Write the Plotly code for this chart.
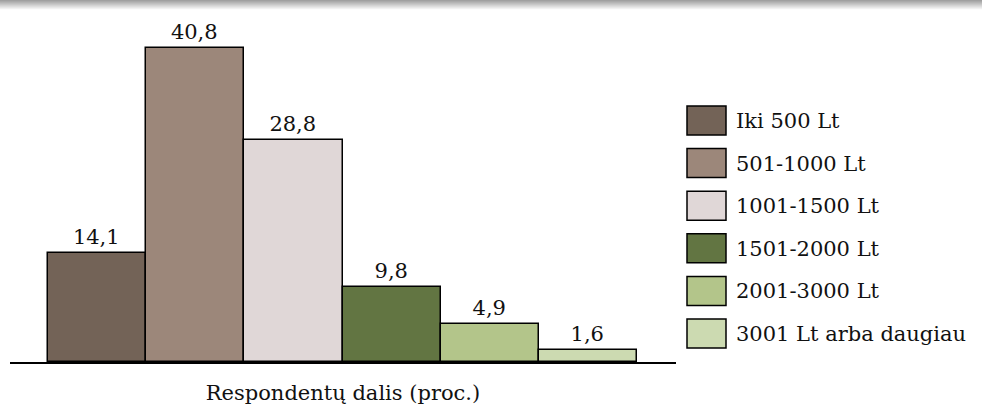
import plotly.graph_objects as go

categorias = ["Iki 500 Lt", "501-1000 Lt", "1001-1500 Lt", "1501-2000 Lt",
              "2001-3000 Lt", "3001 Lt arba daugiau"]
valores = [14.1, 40.8, 28.8, 9.8, 4.9, 1.6]
colores = ["#736357", "#9c877a", "#e0d7d7", "#627542", "#b3c58a", "#ccdab1"]
etiquetas = [f"{v:.1f}".replace(".", ",") for v in valores]

FUENTE = "DejaVu Serif"
TAM = 21
W, H = 982, 414
ML, MR, MT, MB = 10, 306, 10, 52
plot_w = W - ML - MR
plot_h = H - MT - MB


def px_x(p):
    return (p - ML) / plot_w


def px_y(p):
    return (H - MB - p) / plot_h


fig = go.Figure(go.Bar(
    x=categorias, y=valores, text=etiquetas, textposition="outside",
    marker=dict(color=colores, line=dict(color="black", width=1.5)),
    textfont=dict(family=FUENTE, size=TAM, color="#111"),
    cliponaxis=False, showlegend=False,
))

shapes = []
annotations = []
# franja gris degradada arriba
for i in range(10):
    g = int(0xa0 + (0xfc - 0xa0) * i / 9)
    shapes.append(dict(type="rect", xref="paper", yref="paper",
                       x0=px_x(0), x1=px_x(W), y0=px_y(i + 1), y1=px_y(i),
                       fillcolor=f"rgb({g},{g},{g})", line=dict(width=0), layer="above"))

# leyenda a mano con cajas anchas
for i, (cat, col) in enumerate(zip(categorias, colores)):
    top = 106 + i * 42.6
    shapes.append(dict(type="rect", xref="paper", yref="paper",
                       x0=px_x(687), x1=px_x(726), y0=px_y(top + 29), y1=px_y(top),
                       fillcolor=col, line=dict(color="black", width=1.5)))
    annotations.append(dict(xref="paper", yref="paper", x=px_x(734), y=px_y(top + 15),
                            text=cat, showarrow=False, xanchor="left", yanchor="middle",
                            font=dict(family=FUENTE, size=TAM, color="#111")))

fig.update_layout(
    width=W, height=H,
    margin=dict(l=ML, r=MR, t=MT, b=MB),
    plot_bgcolor="white", paper_bgcolor="white",
    bargap=0,
    font=dict(family=FUENTE, size=TAM, color="#111"),
    xaxis=dict(range=[-0.887, 5.897], showticklabels=False, ticks="",
               showline=True, linecolor="black", linewidth=2, showgrid=False,
               title=dict(text="Respondentų dalis (proc.)", standoff=22,
                          font=dict(family=FUENTE, size=TAM, color="#111"))),
    yaxis=dict(range=[0, plot_h / 7.696], visible=False, showgrid=False),
    shapes=shapes, annotations=annotations,
)

fig.write_html("out.html", config={"displayModeBar": False},
               post_script="document.body.style.margin='0';")
